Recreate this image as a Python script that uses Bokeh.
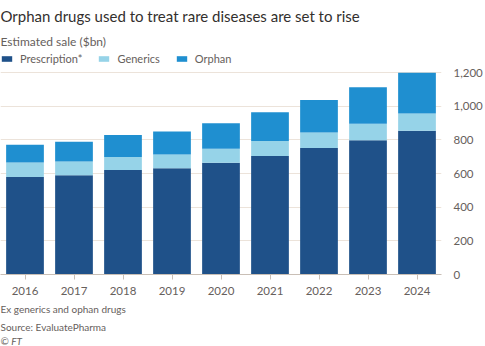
from bokeh.plotting import figure
from bokeh.models import (Range1d, FactorRange, FixedTicker, NumeralTickFormatter,
                          Legend, Title)
from bokeh.embed import file_html
from bokeh.resources import INLINE

years = ["2016", "2017", "2018", "2019", "2020", "2021", "2022", "2023", "2024"]
prescription = [580, 590, 622, 632, 664, 704, 752, 798, 854]
generics = [86, 82, 76, 82, 84, 90, 92, 98, 104]
orphan = [106, 118, 132, 136, 152, 170, 194, 218, 242]
series = ["Prescription*", "Generics", "Orphan"]
colors = ["#1f5189", "#96d3e8", "#1f8fd0"]
y_ticks = [0, 200, 400, 600, 800, 1000, 1200]

FONT = "Lato"
GREY = "#66605c"
W, H = 485, 346

p = figure(width=W, height=H, x_range=FactorRange(*years, range_padding=0),
           y_range=Range1d(0, 1320), output_backend="svg", toolbar_location=None,
           y_axis_location="right", min_border_top=0, min_border_bottom=0,
           min_border_left=0, min_border_right=30)
p.outline_line_color = None
p.background_fill_color = "white"
p.border_fill_color = "white"

data = dict(year=years, p=prescription, g=generics, o=orphan)
renderers = p.vbar_stack(["p", "g", "o"], x="year", width=0.77, source=data,
                         color=colors, line_width=0)

p.xgrid.grid_line_color = None
p.ygrid.grid_line_color = "#ece3da"
p.ygrid.ticker = FixedTicker(ticks=y_ticks)

p.yaxis.ticker = FixedTicker(ticks=y_ticks)
p.yaxis.formatter = NumeralTickFormatter(format="0,0")
p.yaxis.axis_line_color = None
p.yaxis.major_tick_line_color = None
p.yaxis.minor_tick_line_color = None
p.yaxis.major_label_text_font = FONT
p.yaxis.major_label_text_font_size = "11.5px"
p.yaxis.major_label_text_color = GREY
p.yaxis.major_label_standoff = 6

p.xaxis.axis_line_color = "#c9bfb6"
p.xaxis.major_tick_line_color = "#c9bfb6"
p.xaxis.major_tick_out = 5
p.xaxis.major_tick_in = 0
p.xaxis.major_label_text_font = FONT
p.xaxis.major_label_text_font_size = "11.5px"
p.xaxis.major_label_text_color = GREY
p.xaxis.major_label_standoff = 7

legend = Legend(items=[(s, [r]) for s, r in zip(series, renderers)],
                orientation="horizontal", location="top_left",
                glyph_width=13, glyph_height=7, label_text_font=FONT,
                label_text_font_size="11px", label_text_color=GREY,
                spacing=15, padding=0, margin=0, label_standoff=7,
                background_fill_alpha=0, border_line_color=None)
p.add_layout(legend)


def title(text, place, size, color, standoff, style="normal"):
    p.add_layout(Title(text=text, align="left", text_font=FONT, text_font_size=size,
                       text_color=color, text_font_style=style, standoff=standoff,
                       offset=0), place)


title("Estimated sale ($bn)", "above", "12px", GREY, 7)
title("Orphan drugs used to treat rare diseases are set to rise", "above", "15px", "#33302e", 8)

title("Ex generics and ophan drugs", "below", "10px", GREY, 7)
title("Source: EvaluatePharma", "below", "10px", GREY, 0)
title("© FT", "below", "10px", GREY, 0, "italic")

open("out.html", "w").write(file_html(p, INLINE))
